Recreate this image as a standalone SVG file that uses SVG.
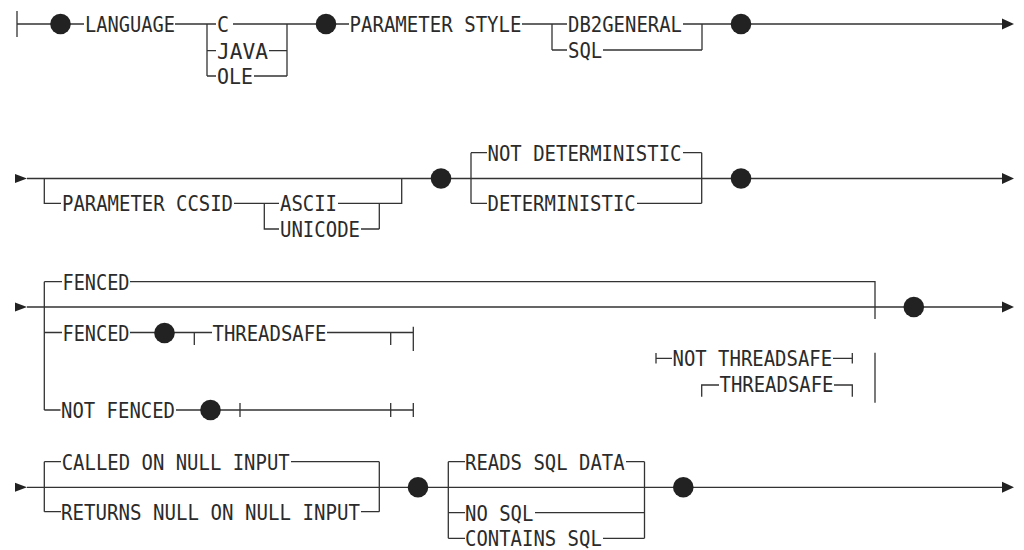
<svg xmlns="http://www.w3.org/2000/svg" width="1024" height="550" viewBox="0 0 1024 550">
<style>
.t{font-family:"DejaVu Sans Mono","Liberation Mono",monospace;font-size:22px;fill:#2b2b2b}
.l{fill:none;stroke:#333;stroke-width:1.3}
.d{fill:#222}
.a{fill:#222}
</style>
<rect width="1024" height="550" fill="#fff"/>
<g id="connectors" class="l">
<path d="M17,11 V37 M17,24 H84 M175,24 H216 M207,24 V76 M207,50.7 H216 M207,76 H216 M233,24 H287 M269,50.7 H287 M254,76 H287 M287,24 V76 M287,24 H349 M522,24 H567 M552,24 V50 M552,50 H567 M683,24 H702 M603,50 H702 M702,24 V50 M702,24 H1004"/>
<path d="M27,178.5 H1004 M44.3,178.5 V203.3 H61 M234,203.3 H279 M264.3,203.3 V229 H279 M338,203.3 H379.3 M361,229 H379.3 M379.3,203.3 V229 M379.3,203.3 H401.7 V178.5 M471,152.7 V203.3 M471,152.7 H487 M471,203.3 H487 M683,152.7 H701.7 M637,203.3 H701.7 M701.7,152.7 V203.3"/>
<path d="M27,307 H1004 M44.3,281.7 V410 M44.3,281.7 H62 M130,281.7 H875 V319 M875,352.7 V402.7 M44.3,332.5 H62 M130,332.5 H212 M194.3,332.5 V345 M327,332.5 H413.3 M390.7,332.5 V345 M413.3,326.7 V351 M44.3,410 H60.5 M176,410 H413.3 M240,403 V417 M390.7,403 V417 M413.3,403 V417"/>
<path d="M656,353 V363.5 M656,358.3 H672 M833,358.3 H852.3 M852.3,353 V363.5 M701.7,396.7 V385 H719 M834,385 H852.3 V396.7"/>
<path d="M27,487.3 H1004 M44.3,461.7 V511.7 M44.3,461.7 H61 M44.3,511.7 H61 M291,461.7 H379.3 M361,511.7 H379.3 M379.3,461.7 V511.7 M448.3,461.7 V538.3 M448.3,461.7 H465 M448.3,512.7 H465 M448.3,538.3 H465 M626,461.7 H644.5 M535,512.7 H644.5 M603,538.3 H644.5 M644.5,461.7 V538.3"/>
<polygon class="a" stroke="none" points="1002,18.5 1014,24 1002,29.5"/>
<polygon class="a" stroke="none" points="1002,173 1014,178.5 1002,184"/>
<polygon class="a" stroke="none" points="1002,301.5 1014,307 1002,312.5"/>
<polygon class="a" stroke="none" points="1002,481.8 1014,487.3 1002,492.8"/>
<polygon class="a" stroke="none" points="15,174 27,178.5 15,183"/>
<polygon class="a" stroke="none" points="15,302.5 27,307 15,311.5"/>
<polygon class="a" stroke="none" points="15,482.8 27,487.3 15,491.8"/>
</g>
<g id="dots">
<circle class="d" cx="60.5" cy="24" r="10.3"/>
<circle class="d" cx="326" cy="24" r="10.3"/>
<circle class="d" cx="741" cy="24" r="10.3"/>
<circle class="d" cx="441" cy="178.5" r="10.3"/>
<circle class="d" cx="741" cy="178.5" r="10.3"/>
<circle class="d" cx="913.8" cy="307" r="10.3"/>
<circle class="d" cx="164.5" cy="333" r="10.3"/>
<circle class="d" cx="210.5" cy="410" r="10.3"/>
<circle class="d" cx="418" cy="487.3" r="10.3"/>
<circle class="d" cx="683.3" cy="487.3" r="10.3"/>
</g>
<g id="n-language"><text class="t" x="85" y="32" textLength="90" lengthAdjust="spacingAndGlyphs">LANGUAGE</text></g>
<g id="n-c"><text class="t" x="217" y="32" textLength="12" lengthAdjust="spacingAndGlyphs">C</text></g>
<g id="n-java"><text class="t" x="217" y="58.7" textLength="51" lengthAdjust="spacingAndGlyphs">JAVA</text></g>
<g id="n-ole"><text class="t" x="217" y="84" textLength="36" lengthAdjust="spacingAndGlyphs">OLE</text></g>
<g id="n-paramstyle"><text class="t" x="349.5" y="32" textLength="172" lengthAdjust="spacingAndGlyphs">PARAMETER STYLE</text></g>
<g id="n-db2general"><text class="t" x="568" y="32" textLength="114" lengthAdjust="spacingAndGlyphs">DB2GENERAL</text></g>
<g id="n-sql"><text class="t" x="568" y="58" textLength="34.2" lengthAdjust="spacingAndGlyphs">SQL</text></g>
<g id="n-ccsid"><text class="t" x="62" y="211.3" textLength="171" lengthAdjust="spacingAndGlyphs">PARAMETER CCSID</text></g>
<g id="n-ascii"><text class="t" x="280" y="211.3" textLength="57" lengthAdjust="spacingAndGlyphs">ASCII</text></g>
<g id="n-unicode"><text class="t" x="280" y="237" textLength="80" lengthAdjust="spacingAndGlyphs">UNICODE</text></g>
<g id="n-notdet"><text class="t" x="487.5" y="160.7" textLength="194" lengthAdjust="spacingAndGlyphs">NOT DETERMINISTIC</text></g>
<g id="n-det"><text class="t" x="487.5" y="211.3" textLength="148.2" lengthAdjust="spacingAndGlyphs">DETERMINISTIC</text></g>
<g id="n-fenced1"><text class="t" x="62.5" y="289.7" textLength="67" lengthAdjust="spacingAndGlyphs">FENCED</text></g>
<g id="n-fenced2"><text class="t" x="62.5" y="340.5" textLength="67" lengthAdjust="spacingAndGlyphs">FENCED</text></g>
<g id="n-threadsafe1"><text class="t" x="212.5" y="340.5" textLength="114" lengthAdjust="spacingAndGlyphs">THREADSAFE</text></g>
<g id="n-notfenced"><text class="t" x="61" y="418" textLength="114" lengthAdjust="spacingAndGlyphs">NOT FENCED</text></g>
<g id="n-notthreadsafe"><text class="t" x="672.5" y="366.3" textLength="159.6" lengthAdjust="spacingAndGlyphs">NOT THREADSAFE</text></g>
<g id="n-threadsafe2"><text class="t" x="719.5" y="392" textLength="114" lengthAdjust="spacingAndGlyphs">THREADSAFE</text></g>
<g id="n-called"><text class="t" x="61.7" y="469.7" textLength="228" lengthAdjust="spacingAndGlyphs">CALLED ON NULL INPUT</text></g>
<g id="n-returns"><text class="t" x="61" y="519.7" textLength="299" lengthAdjust="spacingAndGlyphs">RETURNS NULL ON NULL INPUT</text></g>
<g id="n-reads"><text class="t" x="465" y="469.7" textLength="159.6" lengthAdjust="spacingAndGlyphs">READS SQL DATA</text></g>
<g id="n-nosql"><text class="t" x="465" y="520.7" textLength="68.4" lengthAdjust="spacingAndGlyphs">NO SQL</text></g>
<g id="n-contains"><text class="t" x="465" y="546.3" textLength="136.8" lengthAdjust="spacingAndGlyphs">CONTAINS SQL</text></g>
</svg>
